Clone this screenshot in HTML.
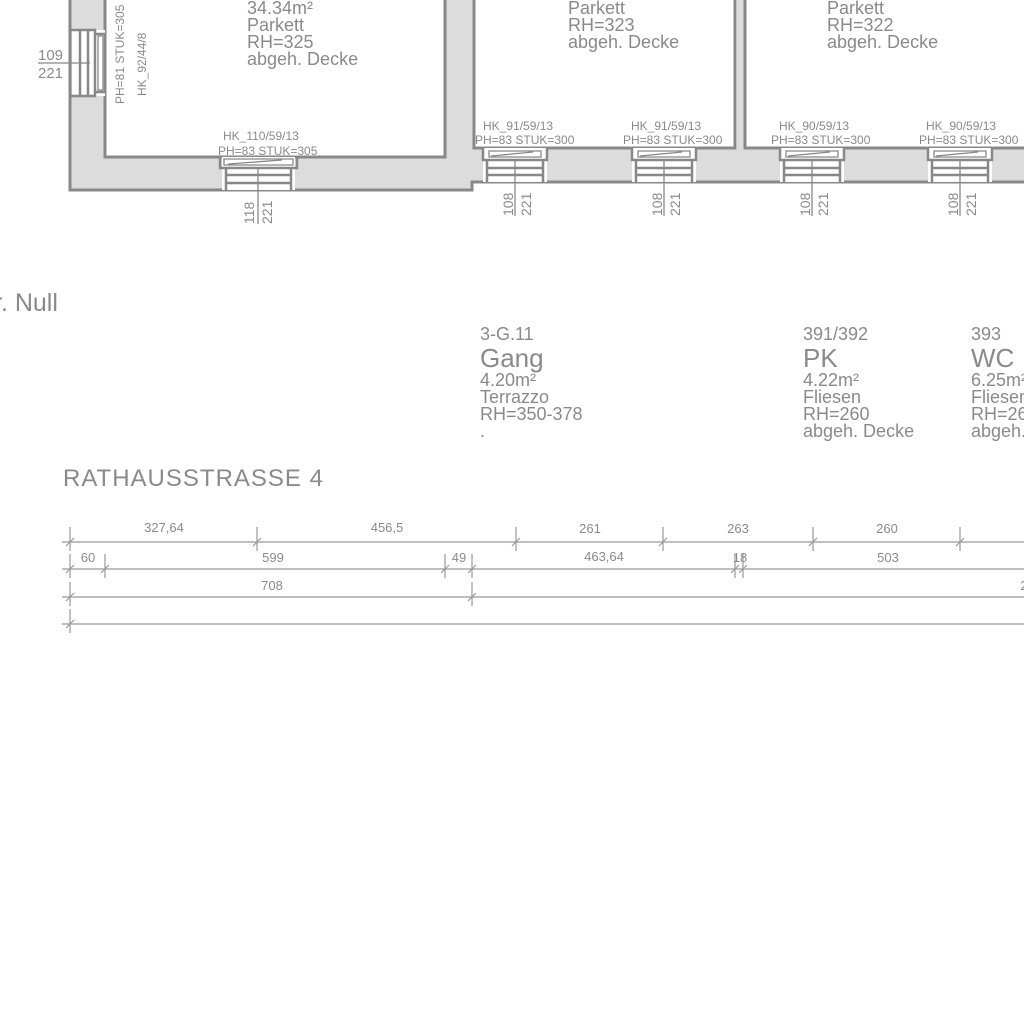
<!DOCTYPE html>
<html><head><meta charset="utf-8"><style>
html,body{margin:0;padding:0;background:#fff;}
svg{display:block;}
text{font-family:"Liberation Sans Narrow","Liberation Sans",sans-serif;fill:#8a8a8a;}
</style></head><body>
<svg width="1024" height="1024" viewBox="0 0 1024 1024" xmlns="http://www.w3.org/2000/svg">
<defs>
<g id="hw">
  <rect x="0" y="0" width="64" height="34" fill="#fff"/>
  <path d="M0 0 V12 H4 V34 M64 0 V12 H60 V34 M4 12 H60 M4 20 H60 M4 27 H60" fill="none" stroke="#888" stroke-width="2.5"/>
  <path d="M6 3 H58 V9 H6 Z M8 8 L50 4" fill="none" stroke="#888" stroke-width="1.3"/>
  <line x1="32" y1="12" x2="32" y2="68" stroke="#888" stroke-width="1.3"/>
</g>
</defs>
<!-- left room walls -->
<path d="M70 0 V190 H472 V182 H474 V148 H445 V157 H105 V0 Z" fill="#dcdcdc"/>
<rect x="445" y="0" width="29" height="148" fill="#dcdcdc"/>
<path d="M474 148 H1024 V182 H472 Z" fill="#dcdcdc"/>
<rect x="737" y="0" width="8" height="148" fill="#dcdcdc"/>
<g fill="none" stroke="#888" stroke-width="3">
  <path d="M70 0 V190 H472 V182 H1024"/>
  <path d="M105 0 V157 H445 V0"/>
  <path d="M474 0 V148 H735 V0"/>
  <path d="M745 0 V148 H1024"/>
</g>
<!-- left vertical window -->
<rect x="72" y="30" width="33" height="66" fill="#fff"/>
<path d="M70 30 H95 V96 H70 M95 34 H105 V92 H95 M80 30 V96 M88 30 V96" fill="none" stroke="#888" stroke-width="2.5"/>
<path d="M98 36 H103 V90 H98 Z" fill="none" stroke="#888" stroke-width="1.3"/>
<line x1="38" y1="63" x2="90" y2="63" stroke="#888" stroke-width="1.3"/>
<text x="38" y="60" font-size="15">109</text>
<text x="38" y="78" font-size="15">221</text>
<text transform="translate(124,104) rotate(-90)" font-size="12">PH=81  STUK=305</text>
<text transform="translate(146,96) rotate(-90)" font-size="12">HK_92/44/8</text>
<!-- bottom window left room -->
<g transform="translate(222,0)">
<rect x="0" y="157" width="73" height="33" fill="#fff"/>
<path d="M-2 157 V168 H4 V190 M75 157 V168 H69 V190 M4 168 H69 M4 175 H69 M4 183 H69" fill="none" stroke="#888" stroke-width="2.5"/>
<path d="M2 159 H71 V165 H2 Z M6 164 L60 160" fill="none" stroke="#888" stroke-width="1.3"/>
<line x1="36" y1="168" x2="36" y2="224" stroke="#888" stroke-width="1.3"/>
</g>
<text x="223" y="140" font-size="12">HK_110/59/13</text>
<text x="218" y="155" font-size="12">PH=83  STUK=305</text>
<text transform="translate(254,224) rotate(-90)" font-size="14">118</text>
<text transform="translate(272,224) rotate(-90)" font-size="14">221</text>
<!-- right windows -->
<use href="#hw" x="483" y="148"/>
<use href="#hw" x="632" y="148"/>
<use href="#hw" x="780" y="148"/>
<use href="#hw" x="928" y="148"/>
<g font-size="12">
<text x="483" y="130">HK_91/59/13</text><text x="475" y="144">PH=83  STUK=300</text>
<text x="631" y="130">HK_91/59/13</text><text x="623" y="144">PH=83  STUK=300</text>
<text x="779" y="130">HK_90/59/13</text><text x="771" y="144">PH=83  STUK=300</text>
<text x="926" y="130">HK_90/59/13</text><text x="919" y="144">PH=83  STUK=300</text>
</g>
<g font-size="14">
<text transform="translate(513,216) rotate(-90)">108</text><text transform="translate(531,216) rotate(-90)">221</text>
<text transform="translate(662,216) rotate(-90)">108</text><text transform="translate(680,216) rotate(-90)">221</text>
<text transform="translate(810,216) rotate(-90)">108</text><text transform="translate(828,216) rotate(-90)">221</text>
<text transform="translate(958,216) rotate(-90)">108</text><text transform="translate(976,216) rotate(-90)">221</text>
</g>
<!-- room texts top -->
<g font-size="18">
<text x="247" y="14">34.34m²</text><text x="247" y="31">Parkett</text><text x="247" y="48">RH=325</text><text x="247" y="65">abgeh. Decke</text>
<text x="568" y="14">Parkett</text><text x="568" y="31">RH=323</text><text x="568" y="48">abgeh. Decke</text>
<text x="827" y="14">Parkett</text><text x="827" y="31">RH=322</text><text x="827" y="48">abgeh. Decke</text>
</g>
<text x="-6" y="311" font-size="25">r. Null</text>
<g font-size="18">
<text x="480" y="340">3-G.11</text><text x="480" y="367" font-size="26">Gang</text>
<text x="480" y="386">4.20m²</text><text x="480" y="403">Terrazzo</text><text x="480" y="420">RH=350-378</text><text x="480" y="437">.</text>
<text x="803" y="340">391/392</text><text x="803" y="367" font-size="26">PK</text>
<text x="803" y="386">4.22m²</text><text x="803" y="403">Fliesen</text><text x="803" y="420">RH=260</text><text x="803" y="437">abgeh. Decke</text>
<text x="971" y="340">393</text><text x="971" y="367" font-size="26">WC</text>
<text x="971" y="386">6.25m²</text><text x="971" y="403">Fliesen</text><text x="971" y="420">RH=260</text><text x="971" y="437">abgeh. Decke</text>
</g>
<text x="63" y="486" font-size="24" letter-spacing="1">RATHAUSSTRASSE 4</text>
<!-- dimension lines -->
<g stroke="#999" stroke-width="1.2" fill="none">
<line x1="62" y1="542" x2="1024" y2="542"/>
<line x1="62" y1="569" x2="1024" y2="569"/>
<line x1="62" y1="597" x2="1024" y2="597"/>
<line x1="62" y1="624" x2="1024" y2="624"/>
<path d="M70 527V551 M257 527V551 M516 527V551 M663 527V551 M813 527V551 M960 527V551
M66 546L74 538 M253 546L261 538 M512 546L520 538 M659 546L667 538 M809 546L817 538 M956 546L964 538"/>
<path d="M70 554V578 M105 554V578 M445 554V578 M472 554V578 M735 554V578 M743 554V578
M66 573L74 565 M101 573L109 565 M441 573L449 565 M468 573L476 565 M731 573L739 565 M739 573L747 565"/>
<path d="M70 582V606 M472 582V606 M66 601L74 593 M468 601L476 593"/>
<path d="M70 609V633 M66 628L74 620"/>
</g>
<g font-size="13" fill="#999" text-anchor="middle">
<text x="164" y="532">327,64</text><text x="387" y="532">456,5</text><text x="590" y="533">261</text><text x="738" y="533">263</text><text x="887" y="533">260</text>
<text x="88" y="562">60</text><text x="273" y="562">599</text><text x="459" y="562">49</text><text x="604" y="561">463,64</text><text x="740" y="562">18</text><text x="888" y="562">503</text>
<text x="272" y="590">708</text><text x="1024" y="590">2</text>
</g>
</svg>
</body></html>
